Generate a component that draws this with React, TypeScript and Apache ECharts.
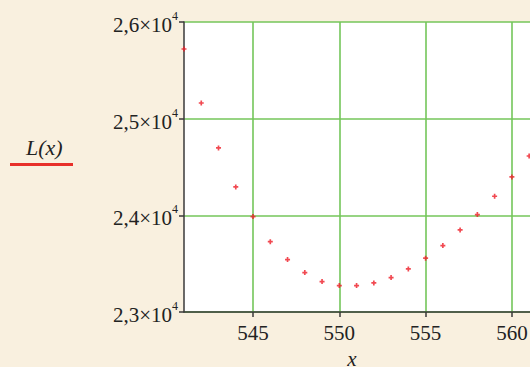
import React, { useEffect, useRef } from "react";
import * as echarts from "echarts";

const xValues = [541, 542, 543, 544, 545, 546, 547, 548, 549, 550, 551, 552, 553, 554, 555, 556, 557, 558, 559, 560, 561];
const lValues = [25721, 25162, 24697, 24294, 23987, 23728, 23542, 23408, 23315, 23273, 23273, 23301, 23356, 23446, 23557, 23687, 23849, 24008, 24197, 24397, 24614];
const yTickMantissa: Record<number, string> = { 23000: "2,3", 24000: "2,4", 25000: "2,5", 26000: "2,6" };
const xTicks = [545, 550, 555, 560];

export default function App() {
  const ref = useRef<HTMLDivElement>(null);
  useEffect(() => {
    if (!ref.current) return;
    const chart = echarts.init(ref.current, null, { renderer: "svg" });
    const serif = "Liberation Serif";
    chart.setOption({
      animation: false,
      backgroundColor: "#f9f0df",
      textStyle: { fontFamily: serif },
      grid: {
        left: 184,
        top: 22,
        right: 0,
        bottom: 55,
        outerBoundsMode: "none",
        containLabel: false,
        show: true,
        backgroundColor: "#ffffff",
        borderWidth: 0,
      },
      xAxis: {
        type: "value",
        min: 541,
        max: 561.05,
        interval: 5,
        axisLine: { show: true, onZero: false, lineStyle: { color: "#3a3a3a", width: 1.5 } },
        axisTick: { show: true, length: 5, lineStyle: { color: "#3a3a3a", width: 1.5 }, customValues: xTicks },
        splitLine: { show: true, lineStyle: { color: "#74c65a", width: 1.6 } },
        axisLabel: {
          customValues: xTicks,
          margin: 10,
          fontFamily: serif,
          fontSize: 21,
          color: "#222",
        },
        name: "x",
        nameLocation: "middle",
        nameGap: 27,
        nameTextStyle: { fontFamily: serif, fontSize: 21, fontStyle: "italic", color: "#222", lineHeight: 22, padding: [0, 10, 0, 0] },
      },
      yAxis: {
        type: "value",
        min: 23000,
        max: 26000,
        interval: 1000,
        axisLine: { show: true, lineStyle: { color: "#3a3a3a", width: 1.5 } },
        axisTick: { show: true, length: 5, lineStyle: { color: "#3a3a3a", width: 1.5 } },
        splitLine: { show: true, lineStyle: { color: "#74c65a", width: 1.6 } },
        axisLabel: {
          margin: 6,
          fontFamily: serif,
          formatter: (v: number) => `{b|${yTickMantissa[v] ?? ""}×10}{s|4}`,
          rich: {
            b: { fontFamily: serif, fontSize: 21, color: "#222", lineHeight: 24, padding: [6, 0, 0, 0] },
            s: { fontFamily: serif, fontSize: 12, color: "#222", verticalAlign: "top", lineHeight: 12 },
          },
        },
      },
      graphic: [
        {
          type: "text",
          left: 26,
          top: 136,
          style: { text: "L(x)", fontFamily: serif, fontSize: 22, fontStyle: "italic", fill: "#222" },
        },
        {
          type: "rect",
          shape: { x: 10, y: 163, width: 63, height: 3 },
          style: { fill: "#e8302a" },
        },
      ],
      series: [
        {
          type: "scatter",
          data: xValues.map((x, i) => [x, lValues[i]]),
          symbol: "path://M1,0H2V1H3V2H2V3H1V2H0V1H1Z",
          symbolSize: 5,
          itemStyle: { color: "#ee1c26" },
          clip: true,
        },
      ],
    });
    return () => chart.dispose();
  }, []);
  return <div ref={ref} style={{ width: 530, height: 367, position: "absolute", left: 0, top: 0 }} />;
}
